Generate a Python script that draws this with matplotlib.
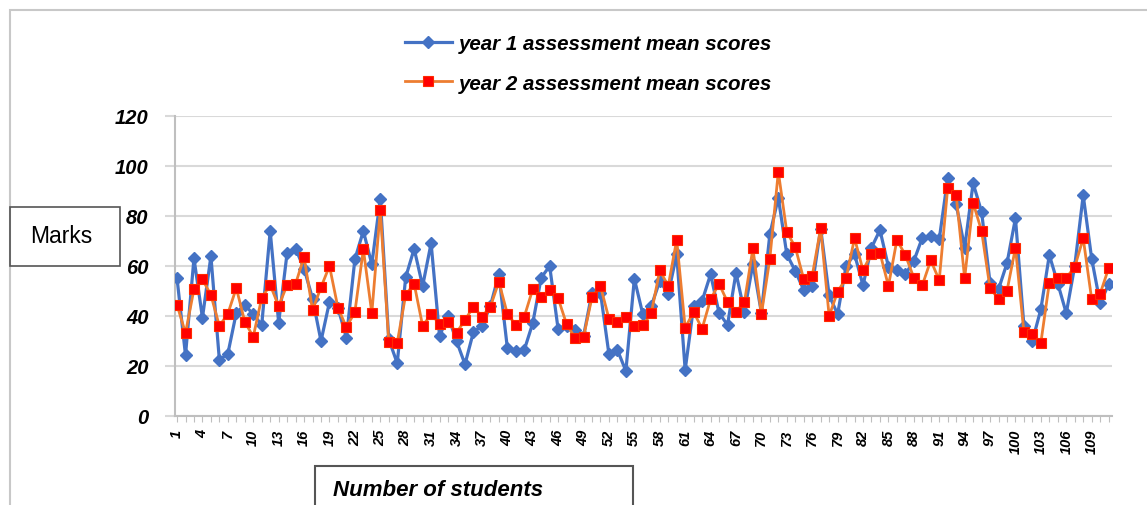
import numpy as np
import matplotlib
matplotlib.use('Agg')
import matplotlib.pyplot as plt
from matplotlib.patches import Rectangle

plt.rcParams['font.family'] = ['Liberation Sans', 'DejaVu Sans']

students = list(range(1, 112))
year1_scores = [55.1, 24.3, 63.1, 39.3, 63.9, 22.4, 24.9, 41.3, 44.4, 40.7,
                36.4, 74.0, 37.3, 65.3, 66.9, 59.0, 47.0, 30.0, 45.6, 43.3,
                31.3, 62.7, 74.0, 60.7, 86.9, 30.7, 21.1, 55.5, 66.9, 52.0,
                69.1, 32.0, 40.0, 30.0, 20.7, 33.6, 36.0, 44.0, 56.7, 27.3,
                26.0, 26.4, 37.1, 55.3, 60.0, 34.7, 36.0, 34.4, 32.0, 49.3,
                49.3, 24.7, 26.4, 18.0, 54.9, 40.7, 44.0, 54.0, 48.9, 64.7,
                18.4, 44.0, 46.0, 56.7, 41.3, 36.4, 57.3, 41.6, 61.0, 41.3,
                72.7, 87.3, 64.7, 58.0, 50.4, 52.0, 75.0, 48.3, 40.7, 60.0,
                64.7, 52.3, 67.3, 74.4, 59.7, 58.5, 56.7, 62.0, 71.3, 72.0,
                70.7, 95.1, 84.7, 67.3, 93.1, 81.7, 53.3, 50.7, 61.1, 79.1,
                36.0, 30.0, 42.7, 64.4, 53.0, 41.1, 60.0, 88.3, 62.9, 45.1,
                52.7]
year2_scores = [44.4, 33.2, 50.7, 54.7, 48.4, 36.0, 40.9, 51.2, 37.7, 31.7,
                47.3, 52.4, 44.0, 52.4, 52.9, 63.6, 42.4, 51.5, 60.0, 43.3,
                35.5, 41.6, 66.7, 41.1, 82.3, 29.6, 29.3, 48.5, 52.9, 36.0,
                40.7, 36.9, 37.7, 33.3, 38.4, 43.7, 39.7, 43.7, 53.7, 40.9,
                36.4, 39.7, 50.7, 47.6, 50.3, 47.1, 36.7, 31.3, 31.6, 47.6,
                52.0, 38.9, 37.6, 39.7, 36.0, 36.3, 41.1, 58.3, 52.0, 70.4,
                35.3, 41.6, 34.9, 46.7, 52.9, 45.6, 41.6, 45.6, 67.1, 40.7,
                63.0, 97.7, 73.6, 67.6, 54.7, 56.0, 75.1, 40.0, 49.7, 55.1,
                71.1, 58.3, 64.9, 65.3, 52.0, 70.4, 64.4, 55.3, 52.3, 62.3,
                54.3, 91.3, 88.3, 55.1, 85.3, 74.0, 51.1, 46.9, 50.0, 67.3,
                33.6, 32.7, 29.3, 53.3, 55.3, 55.3, 59.6, 71.1, 46.7, 48.9,
                59.1]
y_ticks = [0, 20, 40, 60, 80, 100, 120]

grid_col = '#d9d9d9'
axis_col = '#bfbfbf'

fig = plt.figure(figsize=(11.47, 5.06), dpi=100)

# outer chart border
fig.patches.append(Rectangle((10 / 1147, -0.1), 1.2, (506 - 11) / 506 + 0.1,
                             transform=fig.transFigure, fill=False,
                             edgecolor='#c8c8c8', linewidth=1.5))

ax = fig.add_axes([175 / 1147, 89 / 506, 937 / 1147, 300 / 506])
l1, = ax.plot(students, year1_scores, color='#4472c4', lw=2.3, marker='D', ms=6,
              label='year 1 assessment mean scores', zorder=3)
l2, = ax.plot(students, year2_scores, color='#ed7d31', lw=2.0, marker='s', ms=7,
              mfc='#ff0000', mec='#ff2a00', mew=0.8,
              label='year 2 assessment mean scores', zorder=4)

ax.set_xlim(0.76, 111.4)
ax.set_ylim(0, 120)
ax.set_yticks(y_ticks)
ax.set_yticklabels([str(v) for v in y_ticks], fontsize=14.5, fontweight='bold',
                   style='italic')
ax.set_xticks(students)
ax.set_xticklabels([str(s) if (s - 1) % 3 == 0 else '' for s in students],
                   rotation=90, fontsize=10.5, fontweight='bold', style='italic')
ax.yaxis.grid(True, color=grid_col, lw=1.5)
ax.set_axisbelow(True)
for side in ['top', 'right']:
    ax.spines[side].set_visible(False)
ax.spines['left'].set_color(axis_col)
ax.spines['left'].set_linewidth(1.5)
ax.spines['bottom'].set_color(axis_col)
ax.spines['bottom'].set_linewidth(1.5)
ax.tick_params(axis='y', length=7, color=grid_col, width=1.5, pad=12)
ax.tick_params(axis='x', length=4, color=axis_col, width=0.8, pad=5)

fig.legend(handles=[l1, l2], loc='center', bbox_to_anchor=(0.513, 0.873),
           frameon=False, prop={'size': 14.8, 'weight': 'bold', 'style': 'italic'},
           labelspacing=1.0, handlelength=2.3, handletextpad=0.35)

# "Marks" box
fig.patches.append(Rectangle((10 / 1147, (506 - 267) / 506), 110 / 1147, 59 / 506,
                             transform=fig.transFigure, fill=False,
                             edgecolor='#555555', linewidth=1.2))
fig.text(61 / 1147, (506 - 237) / 506, 'Marks', fontsize=16.5, ha='center', va='center')

# "Number of students" box
fig.patches.append(Rectangle((315 / 1147, -0.1), 318 / 1147, (506 - 467) / 506 + 0.1,
                             transform=fig.transFigure, fill=False,
                             edgecolor='#555555', linewidth=1.5))
fig.text(333 / 1147, (506 - 491) / 506, 'Number of students', fontsize=16,
         fontweight='bold', style='italic', ha='left', va='center')

fig.savefig('out.png', dpi=100)
